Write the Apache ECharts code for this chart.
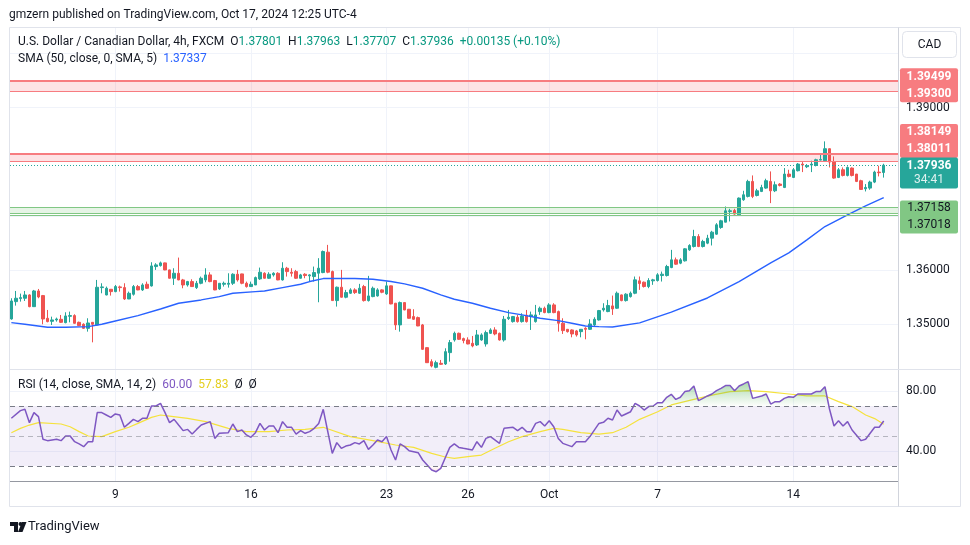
<!DOCTYPE html>
<html><head><meta charset="utf-8">
<script src="https://cdn.jsdelivr.net/npm/echarts@6/dist/echarts.min.js"></script>
<style>html,body{margin:0;padding:0;background:#fff}#c{width:970px;height:545px}</style>
</head><body><div id="c"></div>
<script>
// ---------- DATA (4h candles, USD/CAD, first candle Sep 3 05:00 UTC-4) ----------
const openP = [
1.35093,1.35414,1.35470,1.35476,1.35537,1.35321,1.35611,1.35525,1.35106,1.35050,
1.35075,1.35087,1.35025,1.35143,1.35155,1.35031,1.34995,1.34920,1.35031,1.34982,
1.35673,1.35537,1.35642,1.35599,1.35686,1.35673,1.35463,1.35550,1.35692,1.35630,
1.35735,1.35704,1.36062,1.36080,1.36130,1.36000,1.35846,1.35938,1.35815,1.35722,
1.35784,1.35673,1.35753,1.35815,1.35908,1.35803,1.35648,1.35735,1.35735,1.35753,
1.35920,1.35926,1.35753,1.35692,1.35722,1.35834,1.35938,1.35846,1.35908,1.35938,
1.35815,1.36031,1.35957,1.35969,1.35846,1.35920,1.35890,1.35877,1.35939,1.35951,
1.36328,1.35970,1.35433,1.35680,1.35495,1.35569,1.35631,1.35569,1.35692,1.35433,
1.35507,1.35519,1.35631,1.35556,1.35705,1.35384,1.34983,1.35396,1.35273,1.35137,
1.35118,1.34983,1.34563,1.34304,1.34199,1.34273,1.34261,1.34471,1.34705,1.34828,
1.34730,1.34705,1.34643,1.34613,1.34705,1.34631,1.34828,1.34890,1.34828,1.34705,
1.35100,1.35044,1.35125,1.35044,1.35162,1.35137,1.35044,1.35229,1.35291,1.35211,
1.35353,1.35229,1.35014,1.34902,1.34890,1.34872,1.34859,1.34921,1.34902,1.34983,
1.35075,
1.35261,1.35230,1.35335,1.35292,1.35538,1.35433,1.35507,1.35569,1.35798,1.35773,
1.35693,1.35798,1.35804,1.35896,1.35896,1.36044,1.36186,1.36125,1.36168,1.36371,
1.36433,1.36618,1.36433,1.36495,1.36587,1.36661,1.36785,1.36883,1.37081,1.37099,
1.37019,1.37297,1.37359,1.37636,1.37377,1.37451,1.37513,1.37636,1.37463,1.37587,
1.37525,1.37772,1.37710,1.37834,1.37957,1.37908,1.37939,1.37932,1.38031,1.38019,
1.38241,1.37994,1.37710,1.37852,1.37747,1.37883,1.37772,1.37649,1.37500,1.37513,
1.37624,1.37809,1.37801];
const highP = [
1.35476,1.35611,1.35562,1.35611,1.35550,1.35630,1.35648,1.35537,1.35260,1.35136,
1.35118,1.35167,1.35217,1.35229,1.35180,1.35044,1.35013,1.35106,1.35035,1.35815,
1.35753,1.35692,1.35645,1.35722,1.35710,1.35753,1.35599,1.35722,1.35722,1.35753,
1.35784,1.36142,1.36124,1.36154,1.36135,1.36005,1.36031,1.36228,1.35834,1.35797,
1.35827,1.35797,1.35877,1.36031,1.35957,1.35815,1.35755,1.35784,1.35938,1.35938,
1.36000,1.35930,1.35784,1.35784,1.35877,1.36043,1.35957,1.35957,1.35957,1.35957,
1.36142,1.36056,1.36031,1.36000,1.35927,1.35939,1.35920,1.36062,1.36217,1.36359,
1.36463,1.35988,1.35692,1.36001,1.35631,1.35661,1.35661,1.35742,1.35723,1.35890,
1.35692,1.35661,1.35643,1.35785,1.35710,1.35390,1.35415,1.35400,1.35278,1.35273,
1.35137,1.35001,1.34569,1.34347,1.34322,1.34335,1.34551,1.34705,1.34859,1.34841,
1.34748,1.34754,1.34779,1.34890,1.34828,1.34878,1.34921,1.34940,1.34841,1.35149,
1.35260,1.35149,1.35168,1.35199,1.35260,1.35229,1.35353,1.35322,1.35322,1.35384,
1.35384,1.35248,1.35106,1.34905,1.34902,1.34890,1.34905,1.34940,1.35088,1.35125,
1.35260,
1.35384,1.35446,1.35526,1.35600,1.35545,1.35569,1.35600,1.35878,1.35878,1.35785,
1.35847,1.35835,1.35940,1.35970,1.36094,1.36371,1.36229,1.36217,1.36402,1.36476,
1.36742,1.36661,1.36557,1.36649,1.36723,1.36865,1.36927,1.37173,1.37130,1.37130,
1.37340,1.37463,1.37667,1.37747,1.37500,1.37574,1.37686,1.37821,1.37636,1.37605,
1.37883,1.37852,1.37883,1.37976,1.37994,1.37957,1.38019,1.38056,1.38130,1.38377,
1.38245,1.38099,1.37883,1.37895,1.37914,1.37895,1.37775,1.37667,1.37587,1.37649,
1.37834,1.37926,1.37963];
const lowP = [
1.35080,1.35340,1.35414,1.35426,1.35310,1.35315,1.35476,1.34995,1.35031,1.34982,
1.35044,1.35019,1.35013,1.35031,1.35007,1.34965,1.34908,1.34859,1.34661,1.34975,
1.35568,1.35530,1.35525,1.35587,1.35599,1.35445,1.35460,1.35525,1.35625,1.35611,
1.35648,1.35692,1.36000,1.36062,1.35995,1.35840,1.35722,1.35810,1.35661,1.35692,
1.35688,1.35648,1.35735,1.35772,1.35772,1.35625,1.35630,1.35692,1.35673,1.35722,
1.35784,1.35735,1.35673,1.35688,1.35720,1.35815,1.35840,1.35834,1.35877,1.35810,
1.35803,1.35877,1.35877,1.35834,1.35840,1.35846,1.35785,1.35785,1.35402,1.35939,
1.35939,1.35430,1.35322,1.35490,1.35476,1.35556,1.35556,1.35556,1.35415,1.35415,
1.35495,1.35507,1.35569,1.35538,1.35365,1.34890,1.34859,1.35255,1.35100,1.35075,
1.34960,1.34520,1.34280,1.34199,1.34181,1.34242,1.34242,1.34304,1.34674,1.34705,
1.34643,1.34625,1.34569,1.34594,1.34690,1.34582,1.34816,1.34791,1.34693,1.34674,
1.35075,1.35026,1.35026,1.35026,1.35026,1.34890,1.35026,1.35168,1.35199,1.35199,
1.35199,1.34859,1.34816,1.34841,1.34754,1.34767,1.34754,1.34717,1.34890,1.34964,
1.35063,
1.35230,1.35218,1.35168,1.35279,1.35420,1.35415,1.35489,1.35551,1.35631,1.35674,
1.35662,1.35724,1.35785,1.35785,1.35878,1.36032,1.36094,1.36106,1.36155,1.36353,
1.36415,1.36421,1.36415,1.36476,1.36452,1.36649,1.36760,1.36880,1.36896,1.37019,
1.37015,1.37278,1.37340,1.37328,1.37359,1.37439,1.37500,1.37235,1.37439,1.37544,
1.37513,1.37710,1.37698,1.37821,1.37809,1.37883,1.37809,1.37914,1.38025,1.38006,
1.37895,1.37686,1.37698,1.37729,1.37729,1.37729,1.37624,1.37482,1.37451,1.37482,
1.37605,1.37729,1.37707];
const closeP = [
1.35426,1.35476,1.35488,1.35537,1.35321,1.35611,1.35500,1.35093,1.35044,1.35075,
1.35093,1.35031,1.35149,1.35155,1.35013,1.34970,1.34920,1.35019,1.34995,1.35679,
1.35686,1.35661,1.35599,1.35692,1.35673,1.35463,1.35568,1.35692,1.35630,1.35722,
1.35661,1.36074,1.36093,1.36130,1.36000,1.35846,1.35938,1.35815,1.35722,1.35784,
1.35692,1.35753,1.35846,1.35908,1.35784,1.35630,1.35753,1.35753,1.35753,1.35920,
1.35815,1.35753,1.35692,1.35735,1.35858,1.35957,1.35846,1.35920,1.35938,1.35815,
1.36031,1.35969,1.35938,1.35846,1.35908,1.35896,1.35908,1.35951,1.36032,1.36340,
1.35958,1.35433,1.35680,1.35495,1.35581,1.35631,1.35581,1.35661,1.35433,1.35519,
1.35661,1.35631,1.35587,1.35705,1.35371,1.34983,1.35396,1.35260,1.35106,1.35088,
1.34964,1.34532,1.34285,1.34224,1.34285,1.34255,1.34489,1.34656,1.34828,1.34717,
1.34693,1.34631,1.34594,1.34798,1.34798,1.34841,1.34890,1.34816,1.34705,1.35088,
1.35125,1.35137,1.35044,1.35149,1.35044,1.35168,1.35168,1.35291,1.35211,1.35353,
1.35211,1.35014,1.34878,1.34859,1.34816,1.34798,1.34902,1.34902,1.35001,1.35088,
1.35248,
1.35292,1.35341,1.35279,1.35569,1.35433,1.35551,1.35569,1.35816,1.35748,1.35693,
1.35804,1.35816,1.35909,1.35921,1.36063,1.36186,1.36106,1.36186,1.36390,1.36452,
1.36618,1.36433,1.36526,1.36587,1.36698,1.36834,1.36908,1.37093,1.37093,1.37032,
1.37328,1.37389,1.37636,1.37359,1.37463,1.37525,1.37649,1.37463,1.37574,1.37562,
1.37772,1.37729,1.37852,1.37957,1.37939,1.37926,1.37957,1.38037,1.38043,1.38241,
1.37994,1.37698,1.37852,1.37747,1.37895,1.37747,1.37636,1.37488,1.37525,1.37624,
1.37809,1.37797,1.37936];

// SMA(50) read at candle positions (candle index, value)
const smaIdx = [0,3,8,12,17,20,23,28,33,37,42,46,49,54,56,60,64,66,69,73,76,80,84,87,91,95,98,102,106,110,113,117,121,124,127,130,133,139,146,154,161,168,172,176,180,185,189,193];
const smaVal = [1.35025,1.34995,1.34939,1.34939,1.34951,1.34995,1.35056,1.35155,1.35278,1.35383,1.35445,1.35507,1.35568,1.35599,1.35611,1.35673,1.35735,1.35785,1.35840,1.35840,1.35840,1.35828,1.35785,1.35742,1.35661,1.35538,1.35458,1.35384,1.35291,1.35211,1.35168,1.35106,1.35063,1.35014,1.34963,1.34952,1.34944,1.35020,1.35220,1.35481,1.35784,1.36130,1.36315,1.36556,1.36802,1.37019,1.37185,1.37337];

// RSI(14)
const rsiIdx = [0,2,3,4,5,6,7,8,10,11,12,13,14,15,16,17,18,19,20,21,22,23,24,25,26,27,28,29,30,31,32,33,34,35,36,37,38,39,40,41,42,44,45,46,48,49,50,51,52,53,54,55,56,57,58,59,60,61,62,63,64,65,66,67,68,69,70,71,72,73,74,75,76,77,78,79,80,81,82,83,84,85,86,87,88,90,91,93,94,95,96,97,98,99,100,102,103,104,105,106,108,109,111,112,113,114,115,116,117,118,119,120,121,122,124,125,127,128,130,131,132,133,134,135,137,138,139,140,141,142,143,144,145,146,147,148,149,150,151,152,153,154,155,156,157,158,159,160,161,162,163,164,166,167,168,169,170,171,172,173,174,175,177,178,179,180,181,182,183,184,185,186,188,189,190,191,192,193];
const rsiVal = [61.8,66.9,67.8,58.9,65.6,62.9,47.8,46.9,47.8,46.9,50,50,46.2,44.7,42.9,46.2,46.2,65.6,65.6,64,62.4,64.7,64,55.8,58.4,61.1,59.6,61.8,61.8,70,70,71.8,65.6,58.9,61.1,57.3,53.6,54.4,51.3,54.4,57.3,59.6,48.4,51.8,52.2,58,52.9,54,50.7,49.1,52.2,58.4,54,56.7,56.7,52.2,59.6,55.8,55.8,51.3,53.6,51.8,52.9,55.1,58.4,67.8,53,38.4,45.6,41.8,43.3,44,45.6,44.7,46.9,41.1,44,47.3,46.2,49.6,40.7,34,44.7,42.9,40.2,38.9,34,27.3,26.2,28.4,35.5,42.4,44.7,42.4,41.8,40.7,46.2,42.4,48.4,49.6,45.1,55.1,55.8,53.6,55.8,52.9,52.9,58.4,59.6,56.7,60.2,56.2,48.4,45.1,42.9,46.2,46.2,49.6,58.4,59.1,61.8,60.7,67.3,63.3,66.2,71.8,70,67.3,69.6,70,72.2,72.2,75.8,77.8,74.4,75.8,79.6,80.2,83.3,73.6,75.1,76.7,78,80.2,81.8,83.6,83.6,80.2,83.3,84.7,86.2,75.1,76.7,78,71.3,72.9,72.9,75.1,76.2,75.8,78,78,78,79.6,79.6,82.9,68,56.7,60.2,56.7,59.6,54,46.9,47.8,51.8,55.8,55.8,60.00];

// RSI-based SMA(14)
const rsiMaIdx = [0,2,4,6,11,13,15,17,20,23,26,28,31,33,35,39,43,48,52,57,61,65,69,75,80,85,89,93,96,98,101,104,107,110,113,117,120,122,126,130,133,136,139,143,146,151,155,159,163,167,172,176,180,183,186,189,191,193];
const rsiMaVal = [52.2,55.1,57.3,58.9,58,56.2,52.9,50,49.6,52.9,55.8,58.4,62.4,64,63.3,61.8,59.6,55.1,52.9,52.9,54,54.4,55.8,49.6,46.9,44,42.4,38.4,36,35.1,36.2,37.3,41.8,46.2,49.6,52.9,55.1,54.4,52.2,51.3,52.2,55.8,61.1,66.2,70.7,74.4,77.3,79.6,80.2,79.6,78,76.7,76.7,72.9,69.6,64,61.6,57.83];

// time axis
const tickDays = ['2024-09-09','2024-09-16','2024-09-23','2024-09-26','2024-10-01','2024-10-07','2024-10-14'];
const tickLabels = ['9','16','23','26','Oct','7','14'];
// price axis
const priceGrid = [1.35,1.36,1.37,1.38,1.39,1.40];
const priceLabels = [1.35,1.36,1.39];
const rsiGrid = [40,80];
// horizontal zones
const redZoneA = [1.39300,1.39499];
const redZoneB = [1.38011,1.38149];
const greenZone = [1.37018,1.37048,1.37158];
const lastPrice = 1.37936;
const lastCountdown = '34:41';
const ohlcLast = {o:'1.37801',h:'1.37963',l:'1.37707',c:'1.37936',chg:'+0.00135 (+0.10%)'};

// ---------- CHART ----------
const UP='#26a69a', DOWN='#ef5350', FONT='Roboto, "Noto Sans", sans-serif';
const N = openP.length;
const candles = openP.map((o,i)=>[i,o,closeP[i],lowP[i],highP[i]]);
// candle times: 4h bars, FX week Sun 17:00 -> Fri 17:00
const times=[]; let t=Date.UTC(2024,8,3,5);
for(let i=0;i<N;i++){ times.push(t); t+=4*3600e3; const d=new Date(t); if(d.getUTCDay()===5&&d.getUTCHours()===17) t+=48*3600e3; }
const dayStr = ms=>new Date(ms).toISOString().slice(0,10);
const tickIdx = tickDays.map(d=>times.findIndex(ms=>dayStr(ms)===d));
const tickMap = {}; tickIdx.forEach((v,k)=>tickMap[v]=tickLabels[k]);

const XMIN=-0.3, XMAX=196.16;
const xCommon = (grid)=>({type:'value', gridIndex:grid, min:XMIN, max:XMAX,
  axisTick:{show:false, customValues:tickIdx},
  splitLine:{show:true, lineStyle:{color:'#f0f3fa', width:1}}});

const chart = echarts.init(document.getElementById('c'), null, {renderer:'canvas'});
const lineMark = (v,c,w)=>({yAxis:v, lineStyle:{color:c, width:w, type:'solid'}});
const option = {
  animation:false, backgroundColor:'#ffffff',
  grid:[{left:10, right:72, top:28, height:341},{left:10, right:72, top:370, height:111}],
  xAxis:[
    Object.assign(xCommon(0),{axisLine:{show:true,onZero:false,lineStyle:{color:'#e0e3eb'}}, axisLabel:{show:false}}),
    Object.assign(xCommon(1),{axisLine:{show:true,onZero:false,lineStyle:{color:'#9598a1'}},
      axisLabel:{show:true, customValues:tickIdx, formatter:v=>tickMap[Math.round(v)]||'', color:'#131722', fontSize:12, fontFamily:FONT, margin:8}})
  ],
  yAxis:[
    {type:'value', gridIndex:0, position:'right', min:1.34168, max:1.40473,
     axisLine:{show:false}, axisTick:{show:false, customValues:priceGrid},
     axisLabel:{customValues:priceLabels, formatter:v=>v.toFixed(5), color:'#131722', fontSize:12, fontFamily:FONT, margin:8},
     splitLine:{show:true, lineStyle:{color:'#f0f3fa'}}},
    {type:'value', gridIndex:1, position:'right', min:20, max:94,
     axisLine:{show:false}, axisTick:{show:false, customValues:rsiGrid},
     axisLabel:{customValues:rsiGrid, formatter:v=>v.toFixed(2), color:'#131722', fontSize:12, fontFamily:FONT, margin:8},
     splitLine:{show:true, lineStyle:{color:'#f0f3fa'}}}
  ],
  series:[
    {type:'line', id:'levels', xAxisIndex:0, yAxisIndex:0, data:[], z:1, silent:true,
     markArea:{silent:true, data:[
       [{yAxis:redZoneA[0], itemStyle:{color:'rgba(242,54,69,0.14)'}},{yAxis:redZoneA[1]}],
       [{yAxis:redZoneB[0], itemStyle:{color:'rgba(242,54,69,0.14)'}},{yAxis:redZoneB[1]}],
       [{yAxis:greenZone[1], itemStyle:{color:'rgba(76,175,80,0.14)'}},{yAxis:greenZone[2]}]
     ]},
     markLine:{silent:true, precision:5, symbol:['none','none'], label:{show:false}, data:[
       lineMark(redZoneA[1],'#f77c80',2), lineMark(redZoneA[0],'#f77c80',1),
       lineMark(redZoneB[1],'#f77c80',2), lineMark(redZoneB[0],'#f77c80',1),
       lineMark(greenZone[2],'#81c784',1), lineMark(greenZone[1],'#81c784',1), lineMark(greenZone[0],'#81c784',1),
       {yAxis:lastPrice, lineStyle:{color:UP, width:1, type:[1,2]}}
     ]}},
    {type:'candlestick', id:'price', xAxisIndex:0, yAxisIndex:0, data:candles, barWidth:3, z:3,
     itemStyle:{color:UP, color0:DOWN, borderColor:UP, borderColor0:DOWN, borderWidth:1}},
    {type:'line', id:'sma', xAxisIndex:0, yAxisIndex:0, data:smaIdx.map((x,k)=>[x,smaVal[k]]), symbol:'none', z:4,
     lineStyle:{color:'#2962ff', width:1.4}},
    {type:'line', id:'rsi', xAxisIndex:1, yAxisIndex:1, data:rsiIdx.map((x,k)=>[x,rsiVal[k]]), symbol:'none', z:4,
     lineStyle:{color:'#7e57c2', width:1.5},
     areaStyle:{origin:50, color:'rgba(0,0,0,0)'},
     markArea:{silent:true, data:[[{yAxis:30, itemStyle:{color:'rgba(126,87,194,0.1)'}},{yAxis:70}]]},
     markLine:{silent:true, precision:2, symbol:['none','none'], label:{show:false}, data:[
       {yAxis:70, lineStyle:{color:'#787b86', width:1, type:[5,4]}},
       {yAxis:50, lineStyle:{color:'rgba(120,123,134,0.5)', width:1, type:[5,4]}},
       {yAxis:30, lineStyle:{color:'#787b86', width:1, type:[5,4]}}
     ]}},
    {type:'line', id:'rsima', xAxisIndex:1, yAxisIndex:1, data:rsiMaIdx.map((x,k)=>[x,rsiMaVal[k]]), symbol:'none', z:3,
     lineStyle:{color:'#f5e23d', width:1.2}}
  ]
};
chart.setOption(option);

// ---------- overlays that depend on the axes ----------
const yp = v=>chart.convertToPixel({yAxisIndex:0}, v);
const yr = v=>chart.convertToPixel({yAxisIndex:1}, v);
const y100=yr(100), y0=yr(0);
const grad = {type:'linear', x:0, y:y100, x2:0, y2:y0, global:true, colorStops:[
  {offset:0, color:'rgba(76,175,80,0.95)'},{offset:0.12, color:'rgba(76,175,80,0.75)'},{offset:0.3, color:'rgba(76,175,80,0.02)'},
  {offset:0.3001, color:'rgba(0,0,0,0)'},{offset:0.6999, color:'rgba(0,0,0,0)'},
  {offset:0.7, color:'rgba(242,54,69,0.02)'},{offset:0.88, color:'rgba(242,54,69,0.75)'},{offset:1, color:'rgba(242,54,69,0.95)'}]};

const BOXX=900, BOXW=58;
function box(id, price, dy, h, lines, fill, colors, weights, lh){
  const cy = yp(price)+dy;
  const els=[{type:'rect', id:id+'r', shape:{x:BOXX, y:cy-h/2, width:BOXW, height:h, r:2}, style:{fill:fill}, z:50}];
  lines.forEach((s,k)=>{
    els.push({type:'text', id:id+'t'+k, x:BOXX+BOXW/2, y:cy-(lines.length-1)*lh/2+k*lh, z:51,
      style:{text:s, fill:colors[k], font:(weights[k]||'normal')+' 12px '+FONT, textAlign:'center', textVerticalAlign:'middle'}});
  });
  return els;
}
const T = (id,x,y,text,fill,size,extra)=>Object.assign({type:'text', id, x, y, z:60,
  style:Object.assign({text, fill, font:(size||12)+'px '+FONT, textVerticalAlign:'middle'}, extra||{})});
const rsiLast = rsiVal[rsiVal.length-1], rsiMaLast = rsiMaVal[rsiMaVal.length-1];
const graphics = [
  {type:'rect', id:'frame', shape:{x:9.5,y:27.5,width:951,height:479}, style:{fill:'none', stroke:'#e0e3eb', lineWidth:1}, z:40, silent:true},
  {type:'line', id:'scaleBorder', shape:{x1:898.5,y1:27.5,x2:898.5,y2:506.5}, style:{stroke:'#d1d4dc', lineWidth:1}, z:40},
  {type:'line', id:'paneSep', shape:{x1:9.5,y1:369.5,x2:960.5,y2:369.5}, style:{stroke:'#e0e3eb', lineWidth:1}, z:40},
  T('pub', 9, 15, 'gmzern published on TradingView.com, Oct 17, 2024 12:25 UTC-4', '#131722', 12),
  {type:'text', id:'legend', x:18, y:42, z:60, style:{
    text:'{t|U.S. Dollar / Canadian Dollar, 4h, FXCM}  {t|O}{v|'+ohlcLast.o+'}  {t|H}{v|'+ohlcLast.h+'}  {t|L}{v|'+ohlcLast.l+'}  {t|C}{v|'+ohlcLast.c+'}  {v|'+ohlcLast.chg+'}',
    font:'12px '+FONT, textVerticalAlign:'middle',
    rich:{t:{fill:'#131722', font:'12px '+FONT}, v:{fill:'#089981', font:'12px '+FONT}}}},
  {type:'text', id:'smaLegend', x:18, y:59, z:60, style:{
    text:'{t|SMA (50, close, 0, SMA, 5)}  {b|'+smaVal[smaVal.length-1].toFixed(5)+'}', font:'12px '+FONT, textVerticalAlign:'middle',
    rich:{t:{fill:'#131722', font:'12px '+FONT}, b:{fill:'#2962ff', font:'12px '+FONT}}}},
  {type:'text', id:'rsiLegend', x:18, y:385, z:60, style:{
    text:'{t|RSI (14, close, SMA, 14, 2)}  {p|'+rsiLast.toFixed(2)+'}  {y|'+rsiMaLast.toFixed(2)+'}  {t|Ø}  {t|Ø}', font:'12px '+FONT, textVerticalAlign:'middle',
    rich:{t:{fill:'#131722', font:'12px '+FONT}, p:{fill:'#7e57c2', font:'12px '+FONT}, y:{fill:'#e5cf1f', font:'12px '+FONT}}}},
  {type:'rect', id:'cad', shape:{x:902.5,y:31.5,width:54,height:26,r:4}, style:{fill:'#fff', stroke:'#e0e3eb', lineWidth:1}, z:60},
  T('cadT', 929.5, 44.5, 'CAD', '#131722', 12, {textAlign:'center'}),
  // TradingView logo mark
  {type:'rect', id:'lg1', shape:{x:10,y:522,width:8,height:4}, style:{fill:'#131722'}, z:60},
  {type:'rect', id:'lg2', shape:{x:14,y:522,width:4,height:10}, style:{fill:'#131722'}, z:60},
  {type:'circle', id:'lg3', shape:{cx:20.5,cy:524,r:2}, style:{fill:'#131722'}, z:60},
  {type:'polygon', id:'lg4', shape:{points:[[22,522],[26.5,522],[22.5,532],[18,532]]}, style:{fill:'#131722'}, z:60},
  T('logoT', 28, 527, 'TradingView', '#131722', 13)
].concat(
  box('bA', redZoneA[1], 4.6, 34, [redZoneA[1].toFixed(5), redZoneA[0].toFixed(5)], '#f77c80', ['#fff','#fff'], ['bold','bold'], 17),
  box('bB', redZoneB[1], -12.8, 34, [redZoneB[1].toFixed(5), redZoneB[0].toFixed(5)], '#f77c80', ['#fff','#fff'], ['bold','bold'], 17),
  box('bL', lastPrice, 7.8, 31, [lastPrice.toFixed(5), lastCountdown], UP, ['#fff','rgba(255,255,255,0.85)'], ['bold','normal'], 14),
  box('bG', greenZone[2], 9.7, 33, [greenZone[2].toFixed(5), greenZone[0].toFixed(5)], '#81c784', ['#131722','#131722'], ['normal','normal'], 17)
);
chart.setOption({graphic:graphics, series:[{id:'rsi', areaStyle:{origin:50, color:grad}}]});
</script></body></html>
